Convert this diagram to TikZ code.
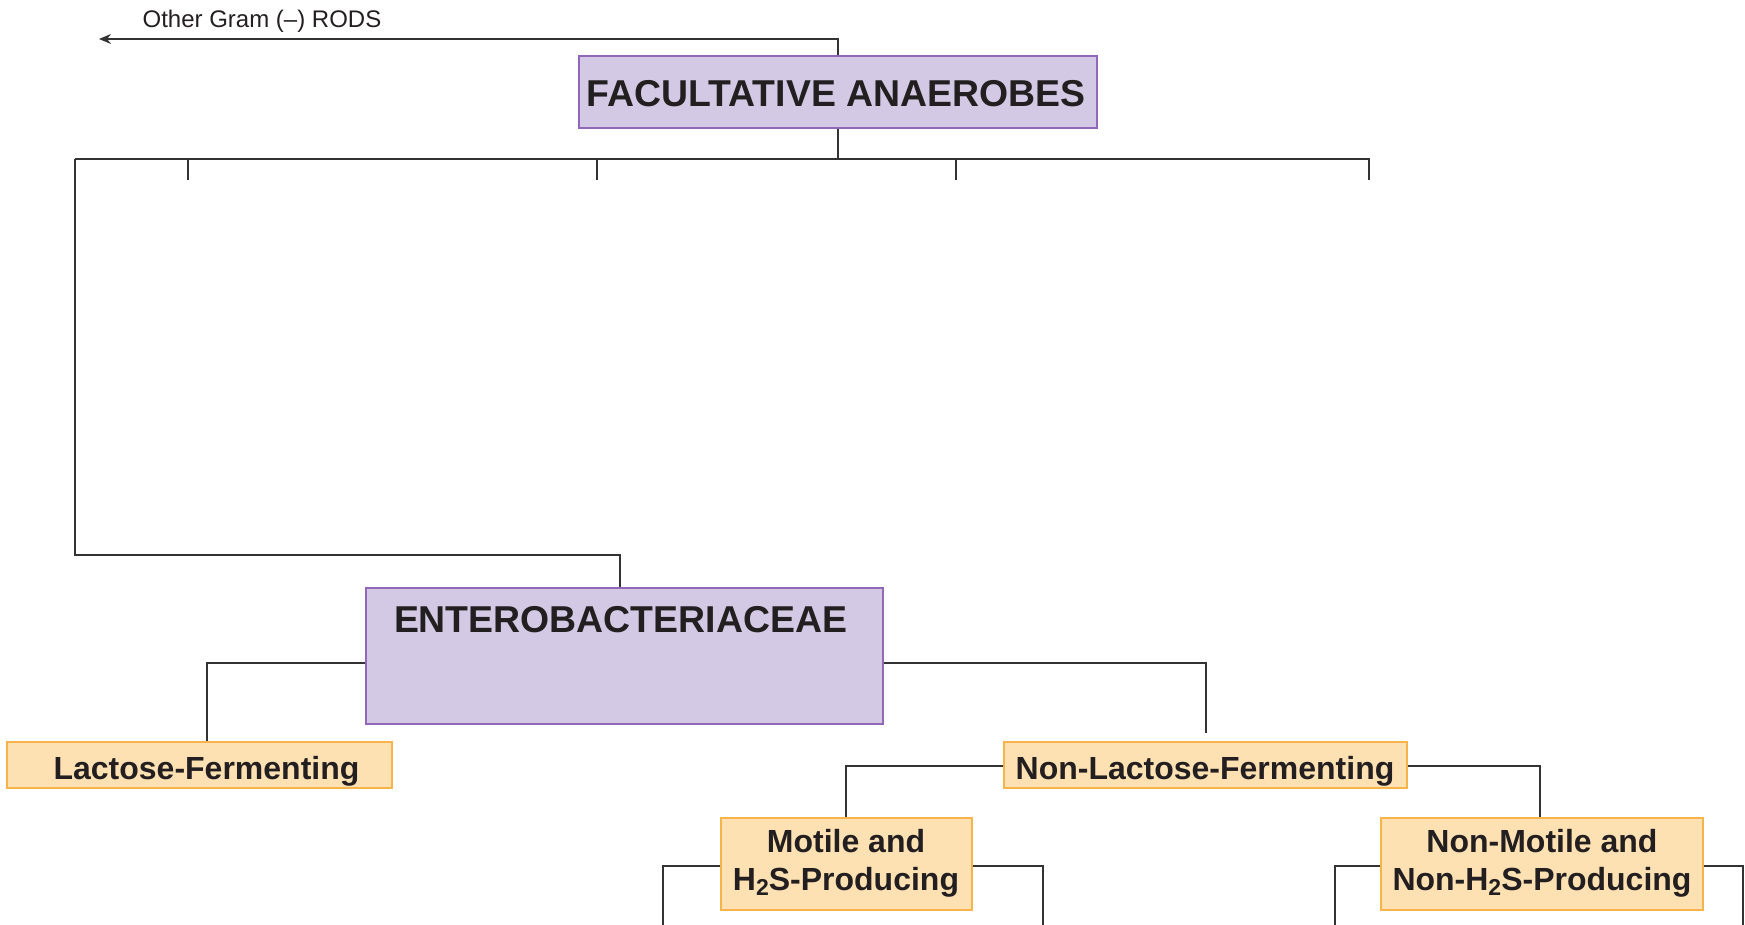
\documentclass[tikz,border=0pt]{standalone}
\usepackage{fontspec}
\setmainfont{Liberation Sans}
\usetikzlibrary{arrows.meta}
\definecolor{purfill}{HTML}{D3C9E4}
\definecolor{purline}{HTML}{9168B8}
\definecolor{orfill}{HTML}{FDE1B3}
\definecolor{orline}{HTML}{F6B44A}
\definecolor{ink}{HTML}{231F20}
\definecolor{wirecol}{HTML}{333333}
\newcommand{\subtwo}{\raisebox{-5pt}{\fontsize{23}{23}\selectfont 2}}
\begin{document}
\begin{tikzpicture}[x=1pt,y=-1pt,
  purbox/.style={draw=purline,fill=purfill,line width=1.3pt,inner sep=0pt},
  orbox/.style={draw=orline,fill=orfill,line width=1.3pt,inner sep=0pt},
  titletext/.style={font=\fontsize{37.4}{42}\selectfont\bfseries,text=ink,inner sep=0pt},
  subtext/.style={font=\fontsize{32}{38}\selectfont\bfseries,text=ink,inner sep=0pt,align=center},
  smalltext/.style={font=\fontsize{24}{28}\selectfont,text=ink,inner sep=0pt},
  wire/.style={draw=wirecol,line width=1.3pt}]
\useasboundingbox (0,0) rectangle (1745,924);

% boxes
\node[purbox,minimum width=518pt,minimum height=72pt] (fa) at (838,92) {};
\node[titletext,anchor=base] (fatext) at (836,106) {FACULTATIVE ANAEROBES};

\node[purbox,minimum width=517pt,minimum height=136pt] (ent) at (624.5,656) {};
\node[titletext,anchor=base] (enttext) at (620.5,632) {ENTEROBACTERIACEAE};

\node[orbox,minimum width=385pt,minimum height=46pt] (lf) at (199.5,765) {};
\node[subtext,anchor=base] (lftext) at (206.5,779) {Lactose-Fermenting};

\node[orbox,minimum width=403pt,minimum height=46pt] (nlf) at (1205.5,765) {};
\node[subtext,anchor=base] (nlftext) at (1205,779) {Non-Lactose-Fermenting};

\node[orbox,minimum width=251pt,minimum height=92pt] (mot) at (846.5,864) {};
\node[subtext] (mottext) at (846,863) {Motile and\\H\subtwo S-Producing};

\node[orbox,minimum width=322pt,minimum height=92pt] (nm) at (1542,864) {};
\node[subtext] (nmtext) at (1542,863) {Non-Motile and\\Non-H\subtwo S-Producing};

\node[smalltext,anchor=base] (rods) at (262,27) {Other Gram (--) RODS};

% coordinates
\coordinate (rodsend) at (99,39);
\coordinate (bar) at (838,159);
\coordinate (barl) at (75,159);
\coordinate (barr) at (1369,159);
\coordinate (t1) at (188,159); \coordinate (t1e) at (188,180);
\coordinate (t2) at (597,159); \coordinate (t2e) at (597,180);
\coordinate (t3) at (956,159); \coordinate (t3e) at (956,180);
\coordinate (t4e) at (1369,180);
\coordinate (lc) at (75,555);
\coordinate (lv) at (620,555);
\coordinate (lb) at (207,663);
\coordinate (rb) at (1206,663);
\coordinate (rbend) at (1206,733);
\coordinate (nl) at (846,766);
\coordinate (nr) at (1540,766);
\coordinate (ml) at (663,866); \coordinate (mle) at (663,925);
\coordinate (mr) at (1043,866); \coordinate (mre) at (1043,925);
\coordinate (nml) at (1335,866); \coordinate (nmle) at (1335,925);
\coordinate (nmr) at (1743,866); \coordinate (nmre) at (1743,925);

% connectors
\draw[wire,-{Stealth[length=12pt,width=10pt]}] (fa.north) |- (rodsend);
\draw[wire] (fa.south) -- (bar);
\draw[wire] (barl) -- (barr) -- (t4e);
\draw[wire] (t1) -- (t1e);
\draw[wire] (t2) -- (t2e);
\draw[wire] (t3) -- (t3e);
\draw[wire] (barl) -- (lc) -- (lv) -- (ent.north -| lv);
\draw[wire] (ent.west |- lb) -- (lb) -- (lf.north -| lb);
\draw[wire] (ent.east |- rb) -- (rb) -- (rbend);
\draw[wire] (nlf.west |- nl) -- (nl) -- (mot.north -| nl);
\draw[wire] (nlf.east |- nr) -- (nr) -- (nm.north -| nr);
\draw[wire] (mot.west |- ml) -- (ml) -- (mle);
\draw[wire] (mot.east |- mr) -- (mr) -- (mre);
\draw[wire] (nm.west |- nml) -- (nml) -- (nmle);
\draw[wire] (nm.east |- nmr) -- (nmr) -- (nmre);
\end{tikzpicture}
\end{document}
